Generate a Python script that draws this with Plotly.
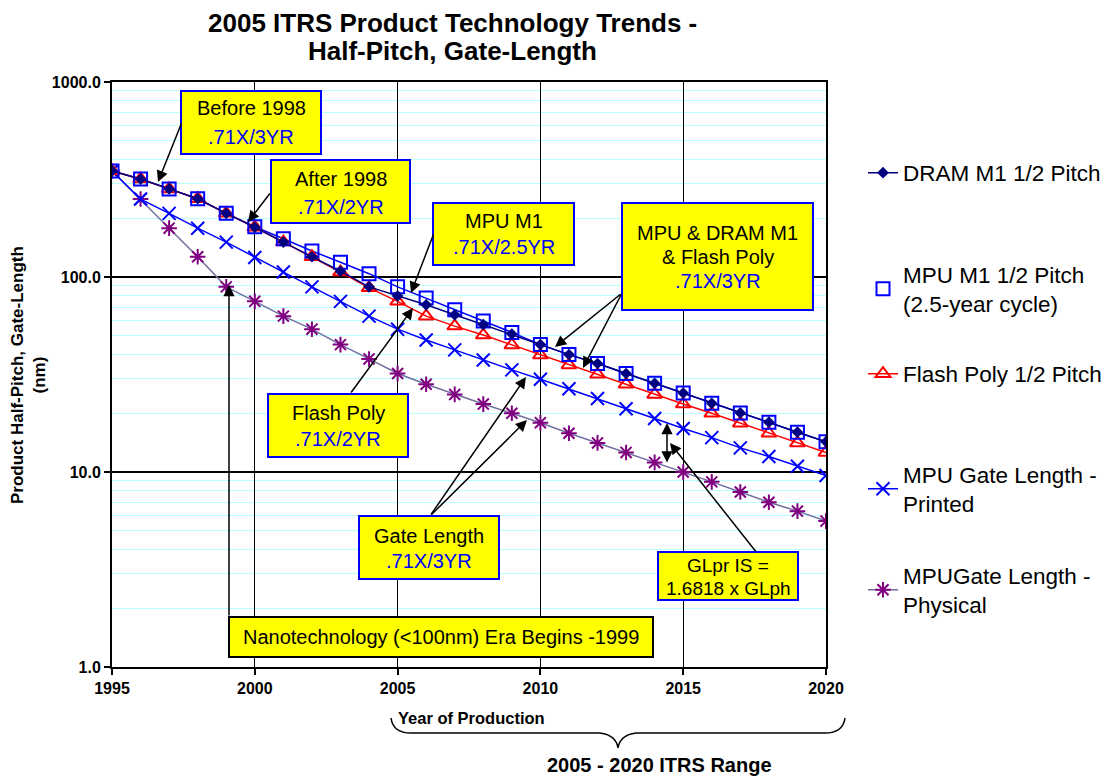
import plotly.graph_objects as go

# ---------------- data ----------------
years = list(range(1995, 2021))
dram_m1 = [350, 318, 283, 252, 212, 180, 151, 127, 107, 89, 80, 72, 64, 57, 51, 45,
           40, 36, 32, 28.5, 25.4, 22.5, 20.1, 18, 16, 14.3]
mpu_m1 = [350, 318, 283, 252, 212, 181, 157, 136, 119, 104, 89, 78, 68, 59.5, 52, 45,
          40, 36, 32, 28.5, 25.4, 22.5, 20.1, 18, 16, 14.3]
flash_poly = [350, 318, 283, 252, 212, 180, 151, 127, 106, 88, 75, 63, 56, 50.4, 44.8, 39.8,
              35.4, 31.7, 28.2, 25, 22.3, 20, 17.8, 15.8, 14.1, 12.6]
gate_printed = [350, 251, 212, 178, 151, 126, 106, 89, 75, 63, 54, 47.5, 42.3, 37.5, 33.4, 29.9,
                26.7, 23.8, 21.1, 18.8, 16.7, 15, 13.3, 12, 10.7, 9.6]
gate_physical = [350, 251, 178, 127, 89, 75, 63, 54, 45, 38, 32, 28.2, 25, 22.3, 20, 17.9,
                 15.8, 14.1, 12.6, 11.2, 10, 8.9, 7.9, 7, 6.3, 5.6]

x_ticks = [1995, 2000, 2005, 2010, 2015, 2020]
y_ticks = [1, 10, 100, 1000]
y_ticktext = ["1.0", "10.0", "100.0", "1000.0"]
y_minor = [m * d for d in (1, 10, 100) for m in range(2, 10)]

names = ["DRAM M1 1/2 Pitch", "MPU M1 1/2 Pitch<br>(2.5-year cycle)", "Flash Poly 1/2 Pitch",
         "MPU Gate Length -<br>Printed", "MPUGate Length -<br>Physical"]

# ---------------- layout helpers (page pixel -> paper) ----------------
OFF = 8                      # default page body margin
W, H = 1117, 778 - OFF
L, R, T, B = 112, 826, 82, 667   # plot area in page pixels


def px(x):
    return (x - L) / (R - L)


def py(y):
    return (B - y) / (B - T)


FONT = "Liberation Sans, Arial, sans-serif"

fig = go.Figure()

# MPU M1 connecting line (not in legend)
fig.add_trace(go.Scatter(x=years, y=mpu_m1, mode="lines", line=dict(color="#0000FF", width=1.5),
                         showlegend=False, hoverinfo="skip"))
fig.add_trace(go.Scatter(x=years, y=gate_physical, mode="lines+markers", name=names[4], legend="legend5",
                         line=dict(color="#6F6FA0", width=1.5),
                         marker=dict(symbol="asterisk-open", size=13, color="#800080",
                                     line=dict(color="#800080", width=2))))
fig.add_trace(go.Scatter(x=years, y=gate_printed, mode="lines+markers", name=names[3], legend="legend4",
                         line=dict(color="#0000FF", width=1.5),
                         marker=dict(symbol="x-thin-open", size=13, color="#0000FF",
                                     line=dict(color="#0000FF", width=2))))
fig.add_trace(go.Scatter(x=years, y=flash_poly, mode="lines+markers", name=names[2], legend="legend3",
                         line=dict(color="#FF0000", width=1.5),
                         marker=dict(symbol="triangle-up-open", size=13, color="#FF0000",
                                     line=dict(color="#FF0000", width=2))))
fig.add_trace(go.Scatter(x=years, y=mpu_m1, mode="markers", name=names[1], legend="legend2",
                         marker=dict(symbol="square-open", size=13, color="#0000FF",
                                     line=dict(color="#0000FF", width=2))))
fig.add_trace(go.Scatter(x=years, y=dram_m1, mode="lines+markers", name=names[0], legend="legend",
                         line=dict(color="#000080", width=1.5),
                         marker=dict(symbol="diamond", size=9, color="#000080")))


def leg(yc):
    return dict(x=px(863), y=py(yc), xanchor="left", yanchor="middle", xref="paper", yref="paper",
                font=dict(family=FONT, size=22.5, color="black"), bgcolor="rgba(0,0,0,0)",
                borderwidth=0, itemwidth=30)


# ---------------- boxes & texts ----------------
shapes = []
annotations = []


def box(x0, x1, y0, y1, lines, border="#0000FF", size=20):
    shapes.append(dict(type="rect", xref="paper", yref="paper", x0=px(x0), x1=px(x1),
                       y0=py(y1), y1=py(y0), fillcolor="#FFFF00", layer="above",
                       line=dict(color=border, width=2)))
    for text, yc, col in lines:
        annotations.append(dict(x=px((x0 + x1) / 2), y=py(yc), xref="paper", yref="paper", text=text,
                                showarrow=False, xanchor="center", yanchor="middle",
                                font=dict(family=FONT, size=size, color=col)))


def arrow(tail, tip, both=False):
    annotations.append(dict(x=px(tip[0]), y=py(tip[1]), xref="paper", yref="paper",
                            ax=tail[0] - tip[0], ay=tail[1] - tip[1], axref="pixel", ayref="pixel",
                            text="", showarrow=True, arrowhead=2, arrowsize=1.5, arrowwidth=1.5,
                            arrowcolor="black", standoff=0, startstandoff=0,
                            arrowside="end+start" if both else "end",
                            startarrowhead=2, startarrowsize=1.5))


def label(text, x, y, size, bold=True, angle=0, pad=1):
    annotations.append(dict(x=px(x), y=py(y), xref="paper", yref="paper", text=text, textangle=angle,
                            showarrow=False, xanchor="center", yanchor="middle", borderpad=pad,
                            font=dict(family=FONT, size=size, color="black",
                                      weight="bold" if bold else "normal")))


box(181, 321, 91, 154, [("Before 1998", 108, "black"), (".71X/3YR", 137, "#0000FF")])
box(271, 410, 160, 223, [("After 1998", 179, "black"), (".71X/2YR", 207, "#0000FF")])
box(433, 574, 203, 265, [("MPU M1", 221, "black"), (".71X/2.5YR", 247, "#0000FF")])
box(622, 813, 203, 310, [("MPU & DRAM M1", 233, "black"), ("& Flash Poly", 257, "black"),
                         (".71X/3YR", 281, "#0000FF")])
box(268, 408, 394, 457, [("Flash Poly", 413, "black"), (".71X/2YR", 439, "#0000FF")])
box(359, 499, 516, 579, [("Gate Length", 536, "black"), (".71X/3YR", 561, "#0000FF")])
box(658, 798, 552, 600, [("GLpr IS =", 565, "black"), ("1.6818 x GLph", 588, "black")], size=19)
box(229, 653, 617, 657, [("Nanotechnology (<100nm) Era Begins -1999", 637, "black")], border="black")

arrow((182, 122), (158, 182))
arrow((271, 192), (248, 222))
arrow((434, 233), (411, 293))
arrow((622, 293), (555, 347))
arrow((622, 293), (583, 368))
arrow((350, 394), (413, 308))
arrow((229, 617), (229, 285))
arrow((430, 516), (526, 377))
arrow((430, 516), (527, 420))
arrow((757, 553), (670, 443))
arrow((667, 464), (667, 423), both=True)

# titles and labels
label("2005 ITRS Product Technology Trends -", 452, 23, 26, pad=0)
label("Half-Pitch, Gate-Length", 452, 51, 26, pad=0)
label("Product Half-Pitch, Gate-Length<br>(nm)", 28, 375, 17, angle=-90)
label("Year of Production", 471, 718, 16.5)
label("2005 - 2020 ITRS Range", 659, 765, 20)

brace = (f"M {px(391)},{py(718)} Q {px(393)},{py(733)} {px(411)},{py(733)} "
         f"L {px(600)},{py(733)} Q {px(616)},{py(735)} {px(618)},{py(748)} "
         f"Q {px(620)},{py(735)} {px(636)},{py(733)} L {px(825)},{py(733)} "
         f"Q {px(843)},{py(733)} {px(845)},{py(718)}")
shapes.append(dict(type="path", xref="paper", yref="paper", path=brace, line=dict(color="black", width=1.5)))

fig.update_layout(
    width=W, height=H,
    margin=dict(l=L - OFF, r=W - (R - OFF), t=T - OFF, b=H - (B - OFF), pad=0),
    paper_bgcolor="white", plot_bgcolor="white",
    xaxis=dict(range=[1995, 2020], tickvals=x_ticks, showgrid=True, gridcolor="black", gridwidth=1,
               showline=True, linecolor="black", linewidth=2, mirror=True, zeroline=False,
               ticks="outside", ticklen=6, tickcolor="black", tickwidth=1.5,
               tickfont=dict(family=FONT, size=16, color="black", weight="bold")),
    yaxis=dict(type="log", range=[0, 3], tickvals=y_ticks, ticktext=y_ticktext,
               showgrid=True, gridcolor="black", gridwidth=1.5,
               showline=True, linecolor="black", linewidth=2, mirror=True, zeroline=False,
               ticks="outside", ticklen=6, tickcolor="black", tickwidth=1.5,
               tickfont=dict(family=FONT, size=16, color="black", weight="bold"),
               minor=dict(tickvals=y_minor, showgrid=True, gridcolor="#B8FFFF", gridwidth=1, ticks="")),
    legend=leg(173), legend2=leg(289), legend3=leg(374), legend4=leg(489), legend5=leg(590),
    shapes=shapes, annotations=annotations,
)

fig.write_html("out.html")
